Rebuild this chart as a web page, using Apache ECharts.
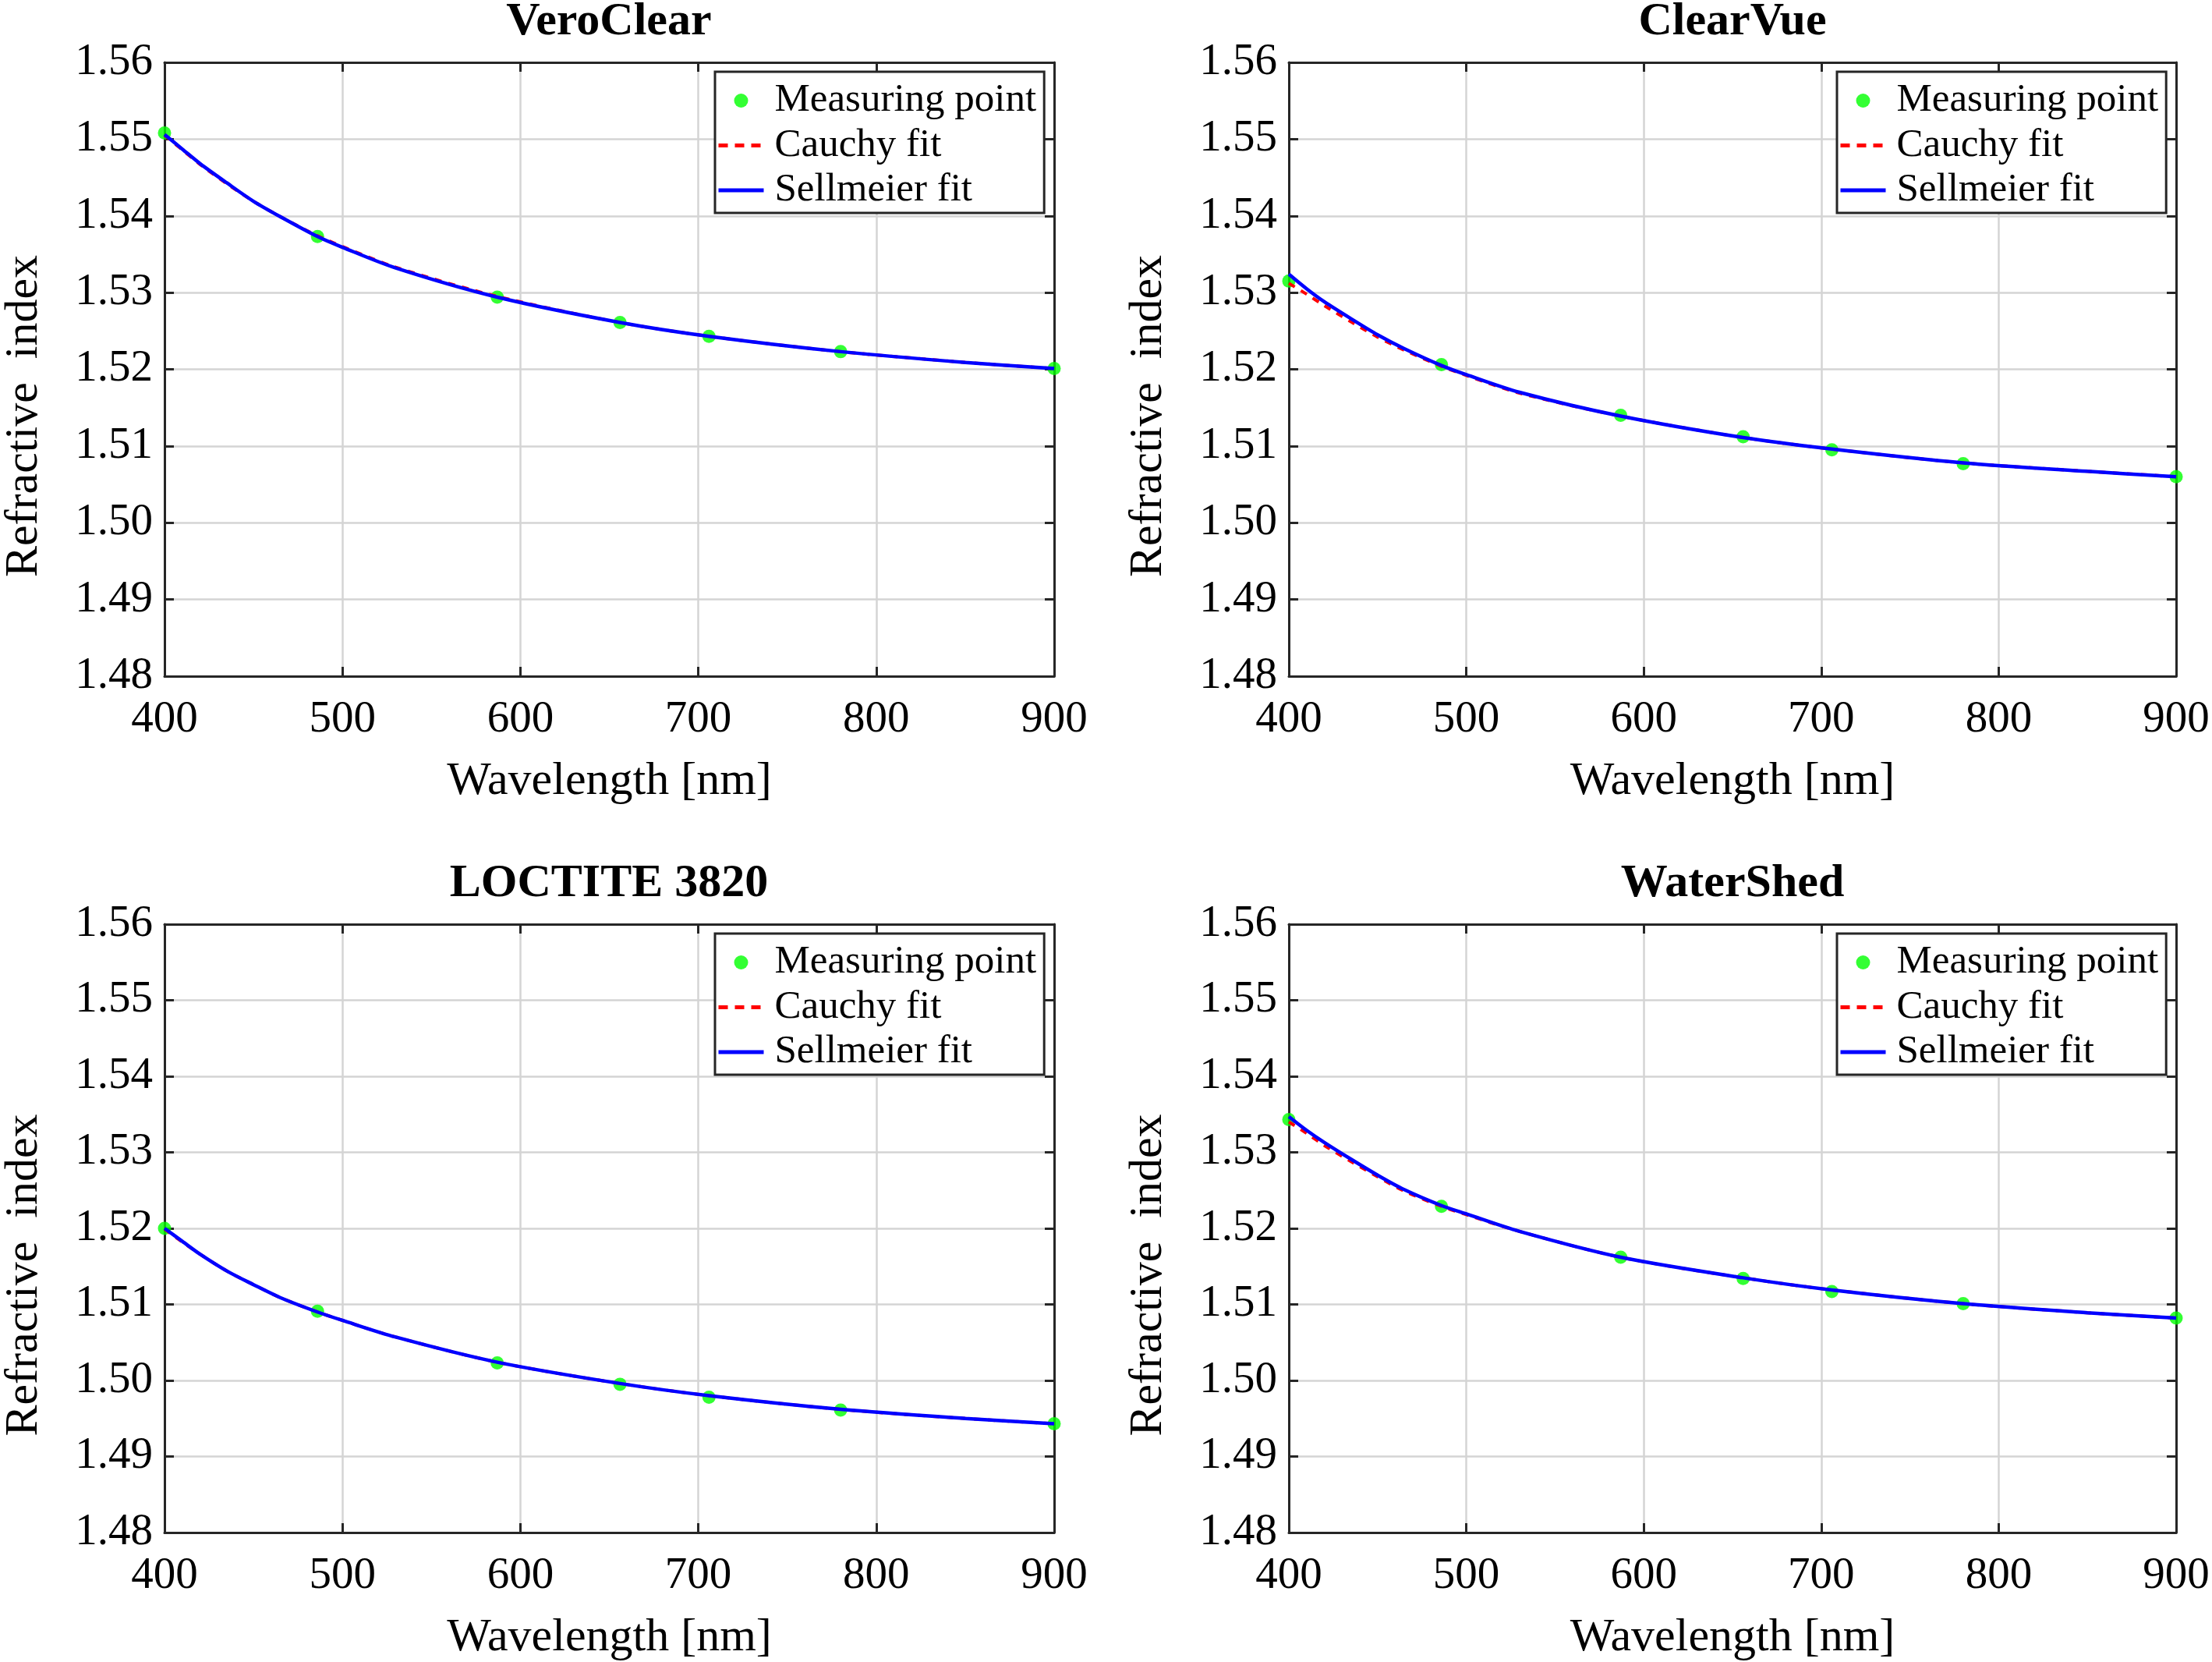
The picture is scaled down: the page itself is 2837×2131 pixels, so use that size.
<!DOCTYPE html>
<html>
<head>
<meta charset="utf-8">
<script src="https://cdn.jsdelivr.net/npm/echarts@6/dist/echarts.min.js"></script>
<style>
html,body{margin:0;padding:0;background:#fff;}
#c{width:2837px;height:2131px;}
</style>
</head>
<body>
<div id="c"></div>
<script>
// ---------- data ----------
const titles = ['VeroClear', 'ClearVue', 'LOCTITE 3820', 'WaterShed'];
const seriesNames = ['Measuring point', 'Cauchy fit', 'Sellmeier fit'];
const xTicks = [400, 500, 600, 700, 800, 900];
const yTicks = [1.48, 1.49, 1.50, 1.51, 1.52, 1.53, 1.54, 1.55, 1.56];

// measuring wavelengths [nm]
const measWl = [400, 486, 587, 656, 706, 780, 900];
// wavelengths at which the fitted curves were read [nm]
const fitWl = [400, 410, 420, 435, 450, 465, 486, 500, 530, 587, 656, 706, 780, 850, 900];

const veroMeas      = [1.5508, 1.5373, 1.5294, 1.5261, 1.5243, 1.5223, 1.5201];
const veroCauchy    = [1.5505, 1.5486, 1.5467, 1.5442, 1.5419, 1.5399, 1.5374, 1.5360, 1.5333, 1.5295, 1.5261, 1.5243, 1.5223, 1.5209, 1.5201];
const veroSellmeier = [1.5506, 1.5487, 1.5468, 1.5443, 1.5419, 1.5399, 1.5373, 1.5359, 1.5332, 1.5294, 1.5261, 1.5243, 1.5223, 1.5209, 1.5201];

const clearMeas      = [1.5315, 1.5206, 1.5140, 1.5112, 1.5095, 1.5077, 1.5060];
const clearCauchy    = [1.5312, 1.5298, 1.5283, 1.5262, 1.5242, 1.5225, 1.5204, 1.5192, 1.5169, 1.5139, 1.5111, 1.5096, 1.5078, 1.5067, 1.5060];
const clearSellmeier = [1.5324, 1.5305, 1.5288, 1.5266, 1.5245, 1.5227, 1.5205, 1.5193, 1.5170, 1.5139, 1.5111, 1.5096, 1.5078, 1.5067, 1.5060];

const loctMeas      = [1.5200, 1.5091, 1.5023, 1.4995, 1.4978, 1.4961, 1.4943];
const loctCauchy    = [1.5199, 1.5182, 1.5166, 1.5144, 1.5126, 1.5109, 1.5090, 1.5079, 1.5057, 1.5024, 1.4996, 1.4980, 1.4962, 1.4950, 1.4943];
const loctSellmeier = [1.5200, 1.5183, 1.5166, 1.5144, 1.5126, 1.5109, 1.5090, 1.5079, 1.5057, 1.5024, 1.4996, 1.4980, 1.4962, 1.4950, 1.4943];

const waterMeas      = [1.5343, 1.5229, 1.5162, 1.5134, 1.5117, 1.5101, 1.5082];
const waterCauchy    = [1.5340, 1.5325, 1.5309, 1.5288, 1.5268, 1.5249, 1.5229, 1.5218, 1.5196, 1.5162, 1.5135, 1.5119, 1.5101, 1.5089, 1.5082];
const waterSellmeier = [1.5347, 1.5329, 1.5313, 1.5291, 1.5270, 1.5251, 1.5230, 1.5219, 1.5196, 1.5162, 1.5135, 1.5119, 1.5101, 1.5089, 1.5082];

// ---------- layout / style ----------
const FONT = "'Liberation Serif', 'Times New Roman', serif";
const AXC = '#262626';
const panels = [
  {meas: veroMeas,  cau: veroCauchy,  sel: veroSellmeier,  left: 210,  top: 80,   w: 1142, h: 787},
  {meas: clearMeas, cau: clearCauchy, sel: clearSellmeier, left: 1653, top: 80,   w: 1138, h: 787},
  {meas: loctMeas,  cau: loctCauchy,  sel: loctSellmeier,  left: 210,  top: 1185, w: 1142, h: 787},
  {meas: waterMeas, cau: waterCauchy, sel: waterSellmeier, left: 1653, top: 1185, w: 1138, h: 787}
];

const pair = (xs, ys) => xs.map((x, i) => [x, ys[i]]);

const option = {
  animation: false,
  backgroundColor: '#fff',
  title: [], grid: [], xAxis: [], yAxis: [], legend: [], series: []
};

const hiddenDot = {color: 'rgba(0,0,0,0)', borderWidth: 0, opacity: 0};

panels.forEach((p, i) => {
  option.grid.push({left: p.left, top: p.top, width: p.w, height: p.h, show: false, containLabel: false});
  option.title.push({
    text: titles[i], left: p.left + p.w / 2, top: p.top - 82, textAlign: 'center', padding: 0,
    textStyle: {fontFamily: FONT, fontWeight: 'bold', fontSize: 60, color: '#000'}
  });
  const xCommon = {type: 'value', gridIndex: i, min: xTicks[0], max: xTicks[xTicks.length - 1], interval: 100,
    axisLine: {show: true, lineStyle: {color: AXC, width: 3}},
    axisTick: {show: true, inside: true, length: 12, lineStyle: {color: AXC, width: 3}}};
  const yCommon = {type: 'value', gridIndex: i, min: yTicks[0], max: yTicks[yTicks.length - 1], interval: 0.01,
    axisLine: {show: true, lineStyle: {color: AXC, width: 3}},
    axisTick: {show: true, inside: true, length: 12, lineStyle: {color: AXC, width: 3}}};
  option.xAxis.push(Object.assign({}, xCommon, {
    position: 'bottom',
    name: 'Wavelength [nm]', nameLocation: 'middle', nameGap: 105,
    nameTextStyle: {fontFamily: FONT, fontSize: 60, color: '#000'},
    axisLabel: {fontFamily: FONT, fontSize: 57, color: '#000', margin: 28},
    splitLine: {show: true, lineStyle: {color: '#d4d4d4', width: 2.5}}
  }));
  option.xAxis.push(Object.assign({}, xCommon, {position: 'top', axisLabel: {show: false}, splitLine: {show: false}}));
  option.yAxis.push(Object.assign({}, yCommon, {
    position: 'left',
    name: 'Refractive  index', nameLocation: 'middle', nameGap: 150,
    nameTextStyle: {fontFamily: FONT, fontSize: 60, color: '#000', padding: [0, 120, 0, 0]},
    axisLabel: {fontFamily: FONT, fontSize: 57, color: '#000', margin: 15, formatter: v => v.toFixed(2)},
    splitLine: {show: true, lineStyle: {color: '#d4d4d4', width: 2.5}}
  }));
  option.yAxis.push(Object.assign({}, yCommon, {position: 'right', axisLabel: {show: false}, splitLine: {show: false}}));

  option.legend.push({
    orient: 'vertical', left: p.left + p.w - 435, top: p.top + 12,
    backgroundColor: '#fff', borderColor: AXC, borderWidth: 3, borderRadius: 0,
    padding: [11, 10, 3, 2], itemGap: 5.5, itemWidth: 58, itemHeight: 18,
    textStyle: {fontFamily: FONT, fontSize: 51, color: '#000', lineHeight: 52, padding: [0, 0, 0, 9]},
    selectedMode: false,
    data: [
      {name: seriesNames[0], icon: 'circle'},
      {name: seriesNames[1], itemStyle: hiddenDot, lineStyle: {color: '#ff0000', width: 5, type: [12, 9]}},
      {name: seriesNames[2], itemStyle: hiddenDot, lineStyle: {color: '#0000ff', width: 5}}
    ]
  });

  option.series.push({
    name: seriesNames[0], type: 'scatter', xAxisIndex: 2 * i, yAxisIndex: 2 * i,
    data: pair(measWl, p.meas), symbol: 'circle', symbolSize: 17,
    itemStyle: {color: '#00ff00'}, z: 2
  });
  option.series.push({
    name: seriesNames[1], type: 'line', xAxisIndex: 2 * i, yAxisIndex: 2 * i,
    data: pair(fitWl, p.cau), showSymbol: false, symbol: 'none', smooth: 0.3,
    lineStyle: {color: '#ff0000', width: 4, type: [9, 9]}, itemStyle: {color: '#ff0000'}, z: 3
  });
  option.series.push({
    name: seriesNames[2], type: 'line', xAxisIndex: 2 * i, yAxisIndex: 2 * i,
    data: pair(fitWl, p.sel), showSymbol: false, symbol: 'none', smooth: 0.3,
    lineStyle: {color: '#0000ff', width: 4.5}, itemStyle: {color: '#0000ff'}, z: 4
  });
});

const chart = echarts.init(document.getElementById('c'), null, {renderer: 'canvas', width: 2837, height: 2131});
chart.setOption(option);
</script>
</body>
</html>
